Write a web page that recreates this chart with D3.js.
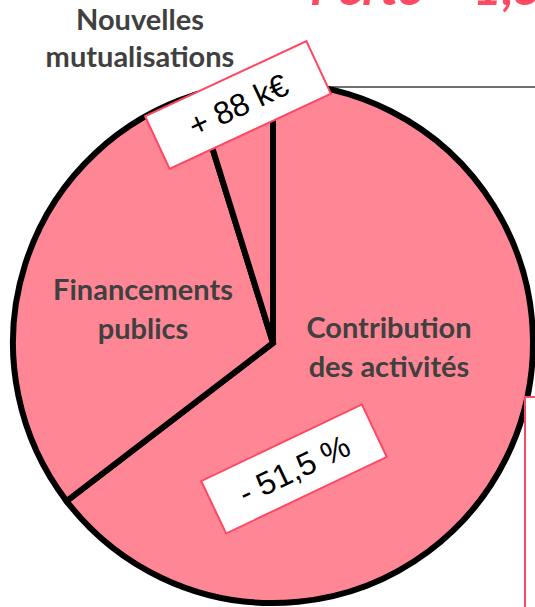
<!DOCTYPE html>
<html>
<head>
<meta charset="utf-8">
<script src="https://cdn.jsdelivr.net/npm/d3@7"></script>
<style>
  body { margin: 0; background: #fff; overflow: hidden; }
  svg { display: block; }
</style>
</head>
<body>
<script>
// data ------------------------------------
const categories = ["Contribution des activités", "Financements publics", "Nouvelles mutualisations"];
const values = [64.6, 30.6, 4.8];
const labelLines = [["Contribution", "des activités"], ["Financements", "publics"], ["Nouvelles", "mutualisations"]];
const badges = ["- 51,5 %", "+ 88 k€"];
const title = "Perte – 1,5 M€";

const W = 535, H = 607;
const pink = "#ff8795", red = "#ff4861", grey = "#404040";

let svg = d3.select("body").append("svg")
    .attr("width", W)
    .attr("height", H);

// titre coupé en haut
svg.append("text")
    .text(title)
    .attr("x", 310)
    .attr("y", 5)
    .attr("fill", red)
    .style("font-family", "Lato, 'Open Sans', sans-serif")
    .style("font-weight", "bold")
    .style("font-style", "italic")
    .style("font-size", "50px");

// connecteur horizontal
svg.append("line")
    .attr("x1", 320).attr("x2", 540)
    .attr("y1", 87).attr("y2", 87)
    .attr("stroke", grey).attr("stroke-width", 1.5);

//camembert---------------------------
const cx = 273, cy = 343, r = 260;
const pie = d3.pie().sort(null).value(d => d);
const arc = d3.arc().innerRadius(0).outerRadius(r);

const g = svg.append("g").attr("transform", `translate(${cx},${cy})`);
g.selectAll("path")
    .data(pie(values))
    .enter()
    .append("path")
        .attr("d", arc)
        .attr("fill", pink)
        .attr("stroke", "#000")
        .attr("stroke-width", 6)
        .attr("stroke-linejoin", "miter");

// libellés des parts
const labelPos = [[389, 338], [143, 300], [140, 30]];
labelLines.forEach((lines, i) => {
    const t = svg.append("text")
        .attr("text-anchor", "middle")
        .attr("fill", grey)
        .style("font-family", "Lato, 'Open Sans', sans-serif")
        .style("font-weight", "bold")
        .style("font-size", "29px");
    lines.forEach((l, j) => {
        t.append("tspan")
            .attr("x", labelPos[i][0])
            .attr("y", labelPos[i][1] + j * (i == 2 ? 37 : 39))
            .text(l);
    });
});

// encadrés
const badgePos = [[294, 469, -25.5], [238, 105, -25]];
badges.forEach((b, i) => {
    const bg = svg.append("g")
        .attr("transform", `translate(${badgePos[i][0]},${badgePos[i][1]}) rotate(${badgePos[i][2]})`);
    bg.append("rect")
        .attr("x", -89).attr("y", -29)
        .attr("width", 178).attr("height", 58)
        .attr("fill", "#fff")
        .attr("stroke", red).attr("stroke-width", 2);
    bg.append("text")
        .text(b)
        .attr("text-anchor", "middle")
        .attr("dy", "0.36em")
        .attr("fill", "#000")
        .style("font-family", "'Liberation Sans', Arial, sans-serif")
        .style("font-size", "32px");
});

// cadre coupé à droite
svg.append("rect")
    .attr("x", 525).attr("y", 397)
    .attr("width", 40).attr("height", 260)
    .attr("fill", "#fff")
    .attr("stroke", red).attr("stroke-width", 2);
</script>
</body>
</html>
